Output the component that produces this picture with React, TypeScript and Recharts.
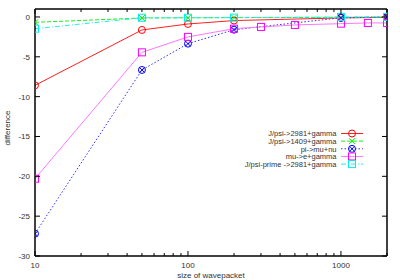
import React from "react";
import { LineChart, Line, XAxis, YAxis } from "recharts";

// x positions (size of wavepacket)
const sizes = [10, 50, 100, 200, 1000, 2000];
const sizesMu = [10, 50, 100, 200, 300, 500, 1000, 1500, 2000];

const jpsi2981 = [-8.58, -1.63, -0.88, -0.45, -0.12, -0.05];
const jpsi1409 = [-0.67, -0.13, -0.1, -0.08, -0.05, 0];
const piMuNu = [-27.2, -6.65, -3.35, -1.6, -0.1, 0];
const muEGamma = [-20.3, -4.44, -2.5, -1.47, -1.25, -1.0, -0.84, -0.75, -0.75];
const jpsiPrime = [-1.47, -0.1, -0.1, -0.08, 0, 0];

const xMajor = [10, 100, 1000];
const xTicks = [10, 20, 30, 40, 50, 60, 70, 80, 90, 100, 200, 300, 400, 500, 600, 700, 800, 900, 1000, 2000];
const yTicks = [0, -5, -10, -15, -20, -25, -30];

const toRows = (xs: number[], ys: number[]) => xs.map((x, i) => ({ x, y: ys[i] }));

const FONT = "'Liberation Sans', Arial, sans-serif";

type Series = {
  name: string;
  data: { x: number; y: number }[];
  color: string;
  lineColor: string;
  dash?: string;
  marker: "circle" | "cross" | "ocross" | "square";
};

const series: Series[] = [
  { name: "J/psi->2981+gamma", data: toRows(sizes, jpsi2981), color: "#ff0000", lineColor: "#ff2020", marker: "circle" },
  { name: "J/psi->1409+gamma", data: toRows(sizes, jpsi1409), color: "#00ee00", lineColor: "#20ee20", dash: "4 2", marker: "cross" },
  { name: "pi->mu+nu", data: toRows(sizes, piMuNu), color: "#0000ff", lineColor: "#3030ff", dash: "1.5 2", marker: "ocross" },
  { name: "mu->e+gamma", data: toRows(sizesMu, muEGamma), color: "#ff00ff", lineColor: "#ff77ff", marker: "square" },
  { name: "J/psi-prime ->2981+gamma", data: toRows(sizes, jpsiPrime), color: "#00eeee", lineColor: "#20eeee", dash: "5 2 1 2", marker: "square" },
];

function Marker({ cx, cy, kind, color }: { cx: number; cy: number; kind: Series["marker"]; color: string }) {
  if (kind === "circle") return <circle cx={cx} cy={cy} r={3.5} fill="none" stroke={color} strokeWidth={1} />;
  if (kind === "cross")
    return (
      <g stroke={color} strokeWidth={1}>
        <line x1={cx - 3} y1={cy - 3} x2={cx + 3} y2={cy + 3} />
        <line x1={cx - 3} y1={cy + 3} x2={cx + 3} y2={cy - 3} />
      </g>
    );
  if (kind === "ocross")
    return (
      <g stroke={color} strokeWidth={1} fill="none">
        <circle cx={cx} cy={cy} r={3.5} />
        <line x1={cx - 2.5} y1={cy - 2.5} x2={cx + 2.5} y2={cy + 2.5} />
        <line x1={cx - 2.5} y1={cy + 2.5} x2={cx + 2.5} y2={cy - 2.5} />
      </g>
    );
  return <rect x={cx - 3.5} y={cy - 3.5} width={7} height={7} fill="none" stroke={color} strokeWidth={1} />;
}

const makeDot = (s: Series) => (p: any) => (
  <Marker key={`${s.name}-${p.index}`} cx={p.cx} cy={p.cy} kind={s.marker} color={s.color} />
);

function BottomTick({ x, y, payload }: any) {
  const major = xMajor.includes(payload.value);
  return (
    <g>
      <line x1={x} y1={y} x2={x} y2={y - (major ? 5 : 3)} stroke="#000" />
      {major && (
        <text x={x} y={y + 12} textAnchor="middle" fontSize={8} fontFamily={FONT} fill="#333">
          {payload.value}
        </text>
      )}
    </g>
  );
}

function TopTick({ x, y, payload }: any) {
  const major = xMajor.includes(payload.value);
  return <line x1={x} y1={y} x2={x} y2={y + (major ? 5 : 3)} stroke="#000" />;
}

function LeftTick({ x, y, payload }: any) {
  return (
    <g>
      <line x1={x} y1={y} x2={x + 5} y2={y} stroke="#000" />
      <text x={x - 5} y={y + 3} textAnchor="end" fontSize={8} fontFamily={FONT} fill="#333">
        {payload.value}
      </text>
    </g>
  );
}

function RightTick({ x, y }: any) {
  return <line x1={x} y1={y} x2={x - 5} y2={y} stroke="#000" />;
}

export default function App() {
  const axisLine = { stroke: "#000", strokeWidth: 1.5 };
  return (
    <div style={{ position: "absolute", left: 0, top: 0, width: 400, height: 280, background: "#fff" }}>
      <LineChart width={400} height={280} margin={{ top: 0, right: 0, left: 0, bottom: 0 }}>
        <XAxis
          xAxisId="b"
          dataKey="x"
          type="number"
          scale="log"
          domain={[10, 2000]}
          allowDataOverflow
          ticks={xTicks}
          interval={0}
          height={24}
          tickSize={0}
          tickMargin={0}
          tick={<BottomTick />}
          axisLine={axisLine}
        />
        <XAxis
          xAxisId="t"
          orientation="top"
          dataKey="x"
          type="number"
          scale="log"
          domain={[10, 2000]}
          allowDataOverflow
          ticks={xTicks}
          interval={0}
          height={9}
          tickSize={0}
          tickMargin={0}
          tick={<TopTick />}
          axisLine={axisLine}
        />
        <YAxis
          yAxisId="l"
          type="number"
          domain={[-30, 1]}
          allowDataOverflow
          ticks={yTicks}
          interval={0}
          width={35}
          tickSize={0}
          tickMargin={0}
          tick={<LeftTick />}
          axisLine={axisLine}
        />
        <YAxis
          yAxisId="r"
          orientation="right"
          type="number"
          domain={[-30, 1]}
          allowDataOverflow
          ticks={yTicks}
          interval={0}
          width={13}
          tickSize={0}
          tickMargin={0}
          tick={<RightTick />}
          axisLine={axisLine}
        />
        {series.map((s) => (
          <Line
            key={s.name}
            xAxisId="b"
            yAxisId="l"
            data={s.data}
            dataKey="y"
            type="linear"
            stroke={s.lineColor}
            strokeWidth={1}
            strokeDasharray={s.dash}
            dot={makeDot(s)}
            activeDot={false}
            isAnimationActive={false}
          />
        ))}
      </LineChart>
      <svg width={400} height={280} style={{ position: "absolute", left: 0, top: 0, pointerEvents: "none" }}>
        <text
          x={0}
          y={0}
          transform="translate(10,128) rotate(-90)"
          textAnchor="middle"
          fontSize={8}
          fontFamily={FONT}
          fill="#333"
        >
          difference
        </text>
        <text x={211} y={278} textAnchor="middle" fontSize={8} fontFamily={FONT} fill="#333">
          size of wavepacket
        </text>
        {series.map((s, i) => {
          const y = 133.5 + i * 7.65;
          return (
            <g key={s.name}>
              <text x={336.5} y={y + 2.7} textAnchor="end" fontSize={7.5} fontFamily={FONT} fill="#333">
                {s.name}
              </text>
              <line x1={341} y1={y} x2={363} y2={y} stroke={s.lineColor} strokeDasharray={s.dash} />
              <Marker cx={352} cy={y} kind={s.marker} color={s.color} />
            </g>
          );
        })}
      </svg>
    </div>
  );
}
